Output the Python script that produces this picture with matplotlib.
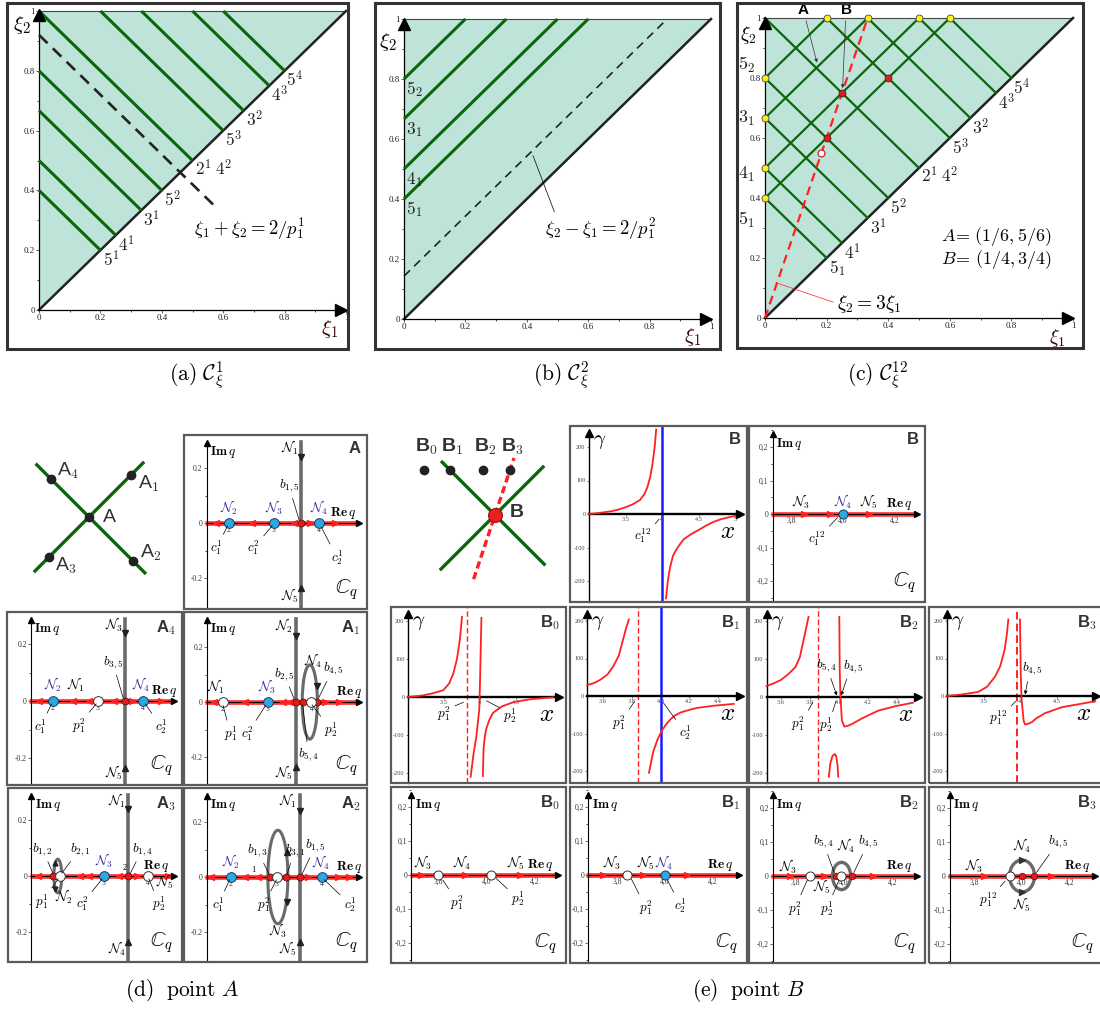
import numpy as np
import matplotlib
matplotlib.use("Agg")
import matplotlib.pyplot as plt
from matplotlib.patches import Rectangle, Ellipse

plt.rcParams['mathtext.fontset'] = 'cm'
plt.rcParams['font.family'] = ['Liberation Serif', 'DejaVu Serif']

W, H = 1100, 1009

#--- top row: xi plane ---#
sum_levels = [0.4, 0.5, 2/3, 0.8, 1.0, 1.2, 4/3, 1.5, 1.6]      # xi1 + xi2 = s
sum_labels = ['5^1', '4^1', '3^1', '5^2', '', '5^3', '3^2', '4^3', '5^4']
diff_levels = [0.4, 0.5, 2/3, 0.8]                               # xi2 - xi1 = d
diff_labels = ['5_1', '4_1', '3_1', '5_2']
dash_sum, dash_sum_end = 0.92, 0.58       # xi1 + xi2 = 2/p_1^1
dash_diff = 1/7                           # xi2 - xi1 = 2/p_1^2
ratio = 3                                 # xi2 = 3 xi1
red_x = [0.2, 0.25, 0.4]
red_y = [0.6, 0.75, 0.8]
white_xy = (0.183, 0.55)
A_pt = (1/6, 5/6)
B_pt = (1/4, 3/4)

#--- cross sketches ---#
A_nodes = [('1', 0.070, 1), ('2', 0.073, -1), ('3', -0.067, 1), ('4', -0.063, -1)]
B_nodes_x = [0.132, 0.175, 0.23, 0.275]
B_nodes_y = 0.825

#--- gamma(x) curves ---#
B_left = [(3.0, 0), (3.1, 2), (3.2, 5), (3.3, 8), (3.4, 13), (3.5, 20), (3.6, 29), (3.7, 42),
          (3.76, 60), (3.8, 80), (3.84, 112), (3.87, 150), (3.9, 200), (3.92, 252)]
B_right = [(4.055, -252), (4.08, -200), (4.11, -160), (4.15, -125), (4.2, -105), (4.25, -89),
           (4.3, -75), (4.4, -60), (4.5, -48), (4.6, -35), (4.7, -24), (4.8, -16), (4.93, -9), (5.04, -3)]
B_blue = 4.0

B0_left = [(3.0, 0), (3.2, 4), (3.35, 10), (3.49, 18), (3.57, 35), (3.63, 62), (3.68, 100),
           (3.72, 150), (3.75, 211)]
B0_mid = [(3.87, -210), (3.89, -180), (3.91, -150), (3.95, -103), (3.99, -32), (4.0, 37),
          (4.01, 124), (4.02, 208)]
B0_right = [(4.04, -208), (4.045, -170), (4.05, -134), (4.07, -100), (4.09, -82), (4.13, -60),
            (4.18, -42), (4.3, -25), (4.46, -14), (4.6, -9), (4.74, -5), (5.02, -1)]
B0_dash = 3.815

B1_left = [(3.49, 29), (3.54, 35), (3.58, 43), (3.63, 57), (3.67, 78), (3.71, 108), (3.74, 151),
           (3.76, 180), (3.78, 204)]
B1_right = [(3.92, -205), (3.935, -175), (3.95, -148), (3.98, -115), (4.01, -92), (4.04, -75),
            (4.07, -62), (4.1, -52), (4.14, -44), (4.2, -37), (4.25, -32), (4.37, -26), (4.51, -21)]
B1_dash, B1_blue = 3.846, 4.0

B2_left = [(3.5, 29), (3.55, 36), (3.6, 45), (3.65, 60), (3.7, 79), (3.73, 105), (3.75, 140),
           (3.77, 175), (3.79, 211)]
B2_hump = [(3.93, -210), (3.94, -175), (3.955, -155), (3.97, -150), (3.98, -155), (3.99, -180),
           (3.995, -210)]
B2_right = [(4.002, 211), (4.005, 70), (4.01, 0), (4.02, -62), (4.037, -78), (4.06, -76), (4.09, -71),
            (4.16, -56), (4.27, -36), (4.39, -24), (4.51, -15)]
B2_dash = 3.857

B3_left = [(3.0, 0), (3.2, 4), (3.43, 11), (3.55, 25), (3.66, 52), (3.73, 80), (3.79, 124),
           (3.82, 165), (3.84, 204)]
B3_right = [(4.0, 204), (4.01, 62), (4.02, -5), (4.05, -66), (4.07, -76), (4.1, -75), (4.16, -70),
            (4.22, -60), (4.34, -46), (4.57, -30), (4.8, -22), (5.03, -14)]
B3_dash = 3.955

#--- points on the Re q axis of the C_q panels ---#
A_blue, A_red, A_white, A_vl = [2, 3, 4], [3.6], [], 3.6
A4_blue, A4_red, A4_white, A4_vl = [2, 4], [3.6], [3], 3.6
A1_blue, A1_red, A1_white, A1_vl = [3], [3.63, 3.79, 4.12], [2, 3.97], 3.63
A3_blue, A3_red, A3_white, A3_vl = [3], [1.85, 3.55], [2.0, 4.0], 3.55
A2_blue, A2_red, A2_white, A2_vl = [2, 4], [2.85, 3.21, 3.51], [3.02], 3.51
Bq_blue, Bq_red, Bq_white = [4.0], [], []
B0q_blue, B0q_red, B0q_white = [], [], [3.8, 4.02]
B1q_blue, B1q_red, B1q_white = [4.0], [], [3.84]
B2q_blue, B2q_red, B2q_white = [], [3.966, 4.034], [3.86, 3.988]
B3q_blue, B3q_red, B3q_white = [], [4.0, 4.05], [3.95]

GREEN = '#0b650b'
TEAL = '#bee4d9'
RED = '#ff2020'
GRAY = '#6a6a6a'
NBLUE = '#2b2b9c'
FS = 9.5

fig = plt.figure(figsize=(W / 100, H / 100), dpi=100)
fig.patch.set_facecolor('white')


def px_axes(box, xref, yref):
    l, t, r, b = box
    ax = fig.add_axes([l / W, 1 - b / H, (r - l) / W, (b - t) / H])
    (p0, v0), (p1, v1) = xref
    sx = (v1 - v0) / (p1 - p0)
    ax.set_xlim(v0 + (l - p0) * sx, v0 + (r - p0) * sx)
    (q0, w0), (q1, w1) = yref
    sy = (w1 - w0) / (q1 - q0)
    ax.set_ylim(w0 + (b - q0) * sy, w0 + (t - q0) * sy)
    ax.patch.set_alpha(0)
    return ax


def frame(ax, lw=1.6, ec='#5a5a5a'):
    ax.add_patch(Rectangle((0, 0), 1, 1, transform=ax.transAxes, fill=False, lw=lw, ec=ec,
                           clip_on=False, zorder=20))


def axis_arrows(ax, x0, y0, xend, yend, ystart=None, xlw=0.8, ylw=0.8, ms=5):
    ax.spines['top'].set_visible(False)
    ax.spines['right'].set_visible(False)
    ax.spines['left'].set_position(('data', x0))
    ax.spines['bottom'].set_position(('data', y0))
    if ystart is None:
        ystart = ax.get_ylim()[0]
    ax.spines['bottom'].set_bounds(x0, xend)
    ax.spines['left'].set_bounds(ystart, yend)
    ax.spines['bottom'].set_linewidth(xlw)
    ax.spines['left'].set_linewidth(ylw)
    ax.spines['bottom'].set_zorder(3)
    ax.plot([xend], [y0], marker='>', color='k', ms=ms, clip_on=False, zorder=5)
    ax.plot([x0], [yend], marker='^', color='k', ms=ms, clip_on=False, zorder=5)


def note(ax, text, xy, pt=None, fs=FS, color='k', arrow=False, relpos=(0.5, 0.5), **kw):
    if pt is None:
        return ax.text(xy[0], xy[1], text, fontsize=fs, ha='center', va='center', color=color, zorder=9, **kw)
    ap = dict(arrowstyle='-|>' if arrow else '-', lw=0.5, color=kw.pop('lc', 'k'),
              shrinkA=1, shrinkB=0, mutation_scale=5, relpos=relpos)
    return ax.annotate(text, xy=pt, xytext=xy, fontsize=fs, ha='center', va='center', color=color,
                       zorder=9, arrowprops=ap, **kw)


def tag(ax, letter, sub=None):
    s = letter if sub is None else letter + r'$_{\mathsf{' + sub + '}}$'
    ax.text(0.965, 0.965, s, transform=ax.transAxes, ha='right', va='top', family='Liberation Sans',
            weight='bold', fontsize=12, color='#333333', zorder=9)


#--- top triangle panels ---#
def tri_axes(box, xref, yref):
    ax = px_axes(box, xref, yref)
    axis_arrows(ax, 0, 0, 0.985, 0.985, ystart=0, xlw=0.9, ylw=0.9, ms=8)
    ax.set_xticks([0, 0.2, 0.4, 0.6, 0.8, 1], ['0', '0.2', '0.4', '0.6', '0.8', '1'])
    ax.set_yticks([0, 0.2, 0.4, 0.6, 0.8, 1], ['0', '0.2', '0.4', '0.6', '0.8', '1'])
    ax.set_xticks(np.arange(0.1, 1, 0.2), minor=True)
    ax.set_yticks(np.arange(0.1, 1, 0.2), minor=True)
    ax.tick_params(labelsize=6.5, length=2, width=0.5, pad=1, colors='#222')
    ax.tick_params(which='minor', length=1.5, width=0.5)
    frame(ax, lw=2.2, ec='#333333')
    ax.fill([0, 0, 1], [0, 1, 1], color=TEAL, zorder=0, lw=0)
    ax.plot([0, 1], [1, 1], color='#444', lw=0.8, zorder=1)
    ax.plot([0, 1], [0, 1], color='#222', lw=1.8, zorder=2)
    return ax


def xi_labels(ax, p2, p1, fs=15):
    ax.text(p2[0], p2[1], r'$\xi_2$', fontsize=fs, ha='center', va='center')
    ax.text(p1[0], p1[1], r'$\xi_1$', fontsize=fs, ha='center', va='center', color='#3a0000')


def sum_lines(ax):
    for s in sum_levels:
        ax.plot([max(0, s - 1), s / 2], [min(s, 1), s / 2], color=GREEN, lw=2.2, zorder=3,
                solid_capstyle='butt')


def sum_texts(ax, first_sub=False, fs=12.5):
    for i, (s, lb) in enumerate(zip(sum_levels, sum_labels)):
        if lb == '':
            ax.text(s / 2 + 0.035, s / 2 - 0.028, '$2^1$', fontsize=fs, ha='center', va='center', color='#222')
            ax.text(s / 2 + 0.10, s / 2 - 0.028, '$4^2$', fontsize=fs, ha='center', va='center', color='#222')
            continue
        if i == 0 and first_sub:
            lb = '5_1'
        ax.text(s / 2 + 0.034, s / 2 - 0.033, '$' + lb + '$', fontsize=fs, ha='center', va='center', color='#222')


# (a)
ax = tri_axes((7, 3, 348, 349), ((39, 0), (346, 1)), ((310, 0), (11, 1)))
sum_lines(ax)
sum_texts(ax)
ax.plot([0, dash_sum_end], [dash_sum, dash_sum - dash_sum_end], color='#222', lw=1.9,
        dashes=(4.5, 2.8), zorder=4)
ax.text(0.505, 0.27, r'$\xi_1+\xi_2=2/p_1^1$', fontsize=13.5, ha='left', va='center')
xi_labels(ax, (-0.055, 0.953), (0.948, -0.062))

# (b)
ax = tri_axes((375, 3, 720, 349), ((404, 0), (711, 1)), ((319, 0), (19, 1)))
for d, lb in zip(diff_levels, diff_labels):
    ax.plot([0, 1 - d], [d, 1], color=GREEN, lw=2.2, zorder=3, solid_capstyle='butt')
    ax.text(0.033, d - 0.035, '$' + lb + '$', fontsize=12.5, ha='center', va='center', color='#222')
ax.plot([0, 1 - dash_diff], [dash_diff, 1], color='#222', lw=1.2, dashes=(5, 3.5), zorder=4)
note(ax, r'$\xi_2-\xi_1=2/p_1^2$', (0.64, 0.30), pt=(0.42, 0.545), fs=13.5, relpos=(0.1, 1.0))
xi_labels(ax, (-0.052, 0.923), (0.94, -0.06))

# (c)
ax = tri_axes((737, 3, 1083, 348), ((765, 0), (1073, 1)), ((318, 0), (18, 1)))
for s in sum_levels:
    ax.plot([max(0, s - 1), s / 2], [min(s, 1), s / 2], color=GREEN, lw=1.6, zorder=3)
for d, lb in zip(diff_levels, diff_labels):
    ax.plot([0, 1 - d], [d, 1], color=GREEN, lw=1.6, zorder=3)
sum_texts(ax, first_sub=True)
for d, lb, yy in zip(diff_levels, diff_labels, [0.326, 0.48, 0.666, 0.845]):
    ax.text(-0.06, yy, '$' + lb + '$', fontsize=13, ha='center', va='center', color='#222')
ax.plot([0, 1 / ratio], [0, 1], color=RED, lw=1.6, dashes=(4, 2.5), zorder=5)
ax.plot([0] * len(diff_levels), diff_levels, 'o', ms=5, mfc='#ffee22', mec='#444', mew=0.6, zorder=7, clip_on=False)
ax.plot([1 - d for d in diff_levels], [1] * len(diff_levels), 'o', ms=5, mfc='#ffee22', mec='#444', mew=0.6,
        zorder=7, clip_on=False)
ax.plot(red_x, red_y, 'o', ms=5, mfc='#e81818', mec='#333', mew=0.6, zorder=7)
ax.plot([white_xy[0]], [white_xy[1]], 'o', ms=5, mfc='white', mec='#d01010', mew=0.8, zorder=7)
note(ax, 'A', (0.124, 1.028), pt=(A_pt[0] + 0.002, A_pt[1] + 0.018), fs=11, arrow=True,
     family='Liberation Sans', weight='bold', lc='#333')
note(ax, 'B', (0.263, 1.028), pt=(B_pt[0] + 0.002, B_pt[1] + 0.016), fs=11, arrow=True,
     family='Liberation Sans', weight='bold', lc='#333')
ax.text(0.57, 0.272, r'$A\!=\,(1/6,5/6)$', fontsize=13, ha='left', va='center')
ax.text(0.57, 0.196, r'$B\!=\,(1/4,3/4)$', fontsize=13, ha='left', va='center')
note(ax, r'$\xi_2=3\xi_1$', (0.34, 0.048), pt=(0.043, 0.115), fs=14, lc=RED, relpos=(0.0, 0.5))
xi_labels(ax, (-0.055, 0.945), (0.948, -0.067), fs=14)

#--- cross sketches ---#
ax = px_axes((15, 445, 175, 595), ((89, 1/6), (689, 7/6)), ((517, 5/6), (-83, 11/6)))
ax.axis('off')
ax.plot([A_pt[0] - 0.09, A_pt[0] + 0.09], [A_pt[1] - 0.09, A_pt[1] + 0.09], color=GREEN, lw=2.4)
ax.plot([A_pt[0] - 0.087, A_pt[0] + 0.093], [A_pt[1] + 0.087, A_pt[1] - 0.093], color=GREEN, lw=2.4)
ax.plot([A_pt[0]], [A_pt[1]], 'o', color='#222', ms=6)
ax.text(A_pt[0] + 0.023, A_pt[1], 'A', family='Liberation Sans', fontsize=14, ha='left', va='center', color='#333')
for nm, t, sl in A_nodes:
    px, py = A_pt[0] + t, A_pt[1] + sl * t
    ax.plot([px], [py], 'o', color='#222', ms=6)
    dx = 0.012 if t > 0 else 0.01
    dy = -0.014 if (t > 0 and sl > 0) else (0.014 if t > 0 else (0.014 if sl < 0 else -0.014))
    ax.text(px + dx, py + dy, 'A' + r'$_{\mathsf{' + nm + '}}$', family='Liberation Sans', fontsize=14,
            ha='left', va='center', color='#333')

ax = px_axes((400, 440, 560, 600), ((495, 0.25), (1095, 1.25)), ((515, 0.75), (-85, 1.75)))
ax.axis('off')
ax.plot([B_pt[0] - 0.088, B_pt[0] + 0.082], [B_pt[1] + 0.088, B_pt[1] - 0.082], color=GREEN, lw=2.4)
ax.plot([B_pt[0] - 0.09, B_pt[0] + 0.08], [B_pt[1] - 0.09, B_pt[1] + 0.08], color=GREEN, lw=2.4)
ax.plot([(B_pt[1] - 0.107) / ratio, (B_pt[1] + 0.095) / ratio], [B_pt[1] - 0.107, B_pt[1] + 0.095],
        color=RED, lw=2.4, dashes=(2.2, 1.2))
ax.plot([B_pt[0]], [B_pt[1]], 'o', ms=10, mfc='#e82020', mec='#a01010', mew=0.8, zorder=5)
ax.text(B_pt[0] + 0.025, B_pt[1] + 0.004, 'B', family='Liberation Sans', weight='bold', fontsize=14,
        ha='left', va='center', color='#333')
ax.plot(B_nodes_x, [B_nodes_y] * 4, 'o', color='#222', ms=6, zorder=5)
for i, bx in enumerate(B_nodes_x):
    ax.text(bx + 0.004, B_nodes_y + 0.038, 'B' + r'$_{\mathsf{' + str(i) + '}}$', family='Liberation Sans',
            weight='bold', fontsize=14, ha='center', va='center', color='#333')


#--- C_q panels ---#
def cq_panel(box, xref, yref, x0, letter, sub, xt, xtl, yt, ytl, minor, re_x=0.85):
    ax = px_axes(box, xref, yref)
    xl, yl = ax.get_xlim(), ax.get_ylim()
    xend = xl[1] - 0.045 * (xl[1] - xl[0])
    yend = yl[1] - 0.045 * (yl[1] - yl[0])
    axis_arrows(ax, x0, 0, xend, yend)
    ax.plot([x0 - 0.01 * (xl[1] - xl[0]), xend - 0.01 * (xl[1] - xl[0])], [0, 0], color=RED, lw=3.4,
            alpha=0.9, solid_capstyle='butt', zorder=2)
    ax.set_xticks(xt, xtl)
    ax.set_yticks(yt, ytl)
    ax.set_yticks(minor, minor=True)
    ax.tick_params(axis='x', labelsize=5.5, length=0, pad=2, colors='#333')
    ax.tick_params(axis='y', labelsize=5.5, length=2, width=0.5, pad=1, colors='#333')
    ax.tick_params(axis='y', which='minor', length=1.5, width=0.5)
    frame(ax)
    tag(ax, letter, sub)
    ax.annotate(r'$\mathbf{Im}\,q$', xy=(x0, 0.90), xycoords=('data', 'axes fraction'), xytext=(2.5, 0),
                textcoords='offset points', fontsize=9.5, ha='left', va='center', zorder=9)
    ax.annotate(r'$\mathbf{Re}\,q$', xy=(re_x, 0), xycoords=('axes fraction', 'data'), xytext=(0, 1.5),
                textcoords='offset points', fontsize=9.5, ha='center', va='bottom', zorder=9)
    ax.text(0.95, 0.04, r'$\mathbb{C}_q$', transform=ax.transAxes, fontsize=15, ha='right', va='bottom', zorder=9)
    return ax


def dots(ax, blue, red, white, ms=7):
    if red:
        ax.plot(red, [0] * len(red), 'o', ms=ms * 0.72, mfc='#e81818', mec='#401010', mew=0.5, zorder=7)
    if white:
        ax.plot(white, [0] * len(white), 'o', ms=ms, mfc='white', mec='#333', mew=0.7, zorder=7)
    if blue:
        ax.plot(blue, [0] * len(blue), 'o', ms=ms, mfc='#2ea8e0', mec='#1a3a6a', mew=0.7, zorder=7)


def flow(ax, left, right):
    if left:
        ax.plot(left, [0] * len(left), '<', ms=5, color=RED, zorder=4)
    if right:
        ax.plot(right, [0] * len(right), '>', ms=5, color=RED, zorder=4)


def vpath(ax, x, top, bot, ytop, ybot):
    yl = ax.get_ylim()
    ax.plot([x, x], [yl[0], yl[1] * 0.92], color=GRAY, lw=2.6, zorder=3)
    ax.plot([x], [ytop], 'v', color='#222', ms=5, zorder=4)
    ax.plot([x], [ybot], '^', color='#222', ms=5, zorder=4)
    note(ax, top, (x - 0.25, yl[1] * 0.85))
    note(ax, bot, (x - 0.25, yl[0] * 0.85))


def loop(ax, cx, w, h, lw=2.2):
    ax.add_patch(Ellipse((cx, 0), 2 * w, 2 * h, fill=False, ec=GRAY, lw=lw, zorder=5))


N = lambda k: r'$\mathcal{N}_' + str(k) + '$'
A_yt, A_ytl, A_min = [-0.2, 0, 0.2], ['-0.2', '0', '0.2'], [-0.1, 0.1]
B_yt = [-0.2, -0.1, 0, 0.1, 0.2]
B_ytl = ['-0,2', '-0,1', '0', '0,1', '0,2']
B_min = np.arange(-0.25, 0.26, 0.05)
B_xt, B_xtl = [3.8, 4.0, 4.2], ['3,8', '4,0', '4,2']

# A
ax = cq_panel((184, 435, 367, 609), ((229, 2), (319, 4)), ((523, 0), (468, 0.2)), 1.5, 'A', None,
              [2, 3, 4], ['2', '3', '4'], A_yt, A_ytl, A_min, re_x=0.87)
vpath(ax, A_vl, N(1), N(5), 0.24, -0.235)
flow(ax, [1.7, 2.5, 3.45], [3.8, 4.35])
dots(ax, A_blue, A_red, A_white)
for x, k in zip(A_blue, [2, 3, 4]):
    note(ax, N(k), (x, 0.055), color=NBLUE)
note(ax, r'$b_{1,5}$', (3.33, 0.135), pt=(3.56, 0.01))
note(ax, r'$c_1^1$', (1.72, -0.09), pt=(1.97, -0.01))
note(ax, r'$c_1^2$', (2.55, -0.09), pt=(2.96, -0.01))
note(ax, r'$c_2^1$', (4.4, -0.125), pt=(4.05, -0.015))

# A4
ax = cq_panel((7, 612, 182, 785), ((53, 2), (143, 4)), ((701, 0), (644, 0.2)), 1.51, 'A', '4',
              [2, 3, 4], ['2', '3', '4'], A_yt, A_ytl, A_min, re_x=0.9)
vpath(ax, A4_vl, N(3), N(5), 0.24, -0.235)
flow(ax, [1.7, 2.45, 2.8, 3.35], [3.75, 4.4])
dots(ax, A4_blue, A4_red, A4_white)
note(ax, N(2), (2, 0.055), color=NBLUE)
note(ax, N(4), (3.95, 0.055), color=NBLUE)
note(ax, N(1), (2.5, 0.055))
note(ax, r'$b_{3,5}$', (3.33, 0.135), pt=(3.56, 0.01))
note(ax, r'$c_1^1$', (1.72, -0.09), pt=(1.97, -0.01))
note(ax, r'$p_1^2$', (2.57, -0.085), pt=(2.96, -0.01))
note(ax, r'$c_2^1$', (4.4, -0.09), pt=(4.05, -0.01))

# A1
ax = cq_panel((184, 612, 367, 785), ((223, 2), (312, 4)), ((702, 0), (647, 0.2)), 1.64, 'A', '1',
              [2, 3, 4], ['2', '3', '4'], A_yt, A_ytl, A_min, re_x=0.9)
vpath(ax, A1_vl, N(2), N(5), 0.24, -0.235)
loop(ax, 3.95, 0.17, 0.135)
ax.plot([4.115], [0.06], 'v', color='#222', ms=4, zorder=6)
flow(ax, [1.8, 2.5, 3.35, 3.5], [4.3, 4.6])
dots(ax, A1_blue, A1_red, A1_white)
note(ax, N(3), (3, 0.055), color=NBLUE)
note(ax, N(1), (1.85, 0.055))
note(ax, N(4), (4.02, 0.15))
note(ax, r'$b_{4,5}$', (4.47, 0.12), pt=(4.15, 0.015))
note(ax, r'$b_{2,5}$', (3.38, 0.1), pt=(3.6, 0.01))
note(ax, r'$b_{5,4}$', (3.92, -0.19), pt=(3.79, -0.01))
note(ax, r'$p_2^1$', (4.42, -0.1), pt=(4.0, -0.01))
note(ax, r'$p_1^1$', (2.17, -0.115), pt=(2.0, -0.012))
note(ax, r'$c_1^2$', (2.55, -0.115), pt=(2.96, -0.012))

# A3
ax = cq_panel((8, 788, 182, 962), ((104, 3), (148, 4)), ((876, 0), (820, 0.2)), 1.35, 'A', '3',
              [3, 4], ['3', '4'], A_yt, A_ytl, A_min)
vpath(ax, A3_vl, N(1), N(4), 0.24, -0.235)
loop(ax, 1.95, 0.09, 0.06)
ax.plot([1.88], [0.045], '^', color='#222', ms=3.5, zorder=6)
ax.plot([1.88], [-0.045], 'v', color='#222', ms=3.5, zorder=6)
flow(ax, [1.5, 2.45, 2.65, 3.35], [3.75, 4.45])
dots(ax, A3_blue, A3_red, A3_white)
note(ax, N(3), (3, 0.055), color=NBLUE)
note(ax, '2', (3.47, 0.03), fs=6)
note(ax, r'$b_{1,2}$', (1.6, 0.095), pt=(1.84, 0.01))
note(ax, r'$b_{2,1}$', (2.45, 0.095), pt=(2.04, 0.01))
note(ax, r'$b_{1,4}$', (3.87, 0.095), pt=(3.6, 0.01))
note(ax, N(5), (4.38, -0.02))
note(ax, r'$p_2^1$', (4.25, -0.1), pt=(4.02, -0.01))
note(ax, r'$c_1^2$', (2.5, -0.1), pt=(2.96, -0.01))
note(ax, r'$p_1^1$', (1.6, -0.09), pt=(1.96, -0.01))
note(ax, N(2), (2.1, -0.075))

# A2
ax = cq_panel((184, 788, 367, 962), ((231, 2), (322, 4)), ((877, 0), (822, 0.2)), 1.47, 'A', '2',
              [2, 3, 4], ['2', '3', '4'], A_yt, A_ytl, A_min, re_x=0.9)
vpath(ax, A2_vl, N(1), N(5), 0.24, -0.235)
loop(ax, 3.03, 0.22, 0.17)
ax.plot([3.24], [0.09], '^', color='#222', ms=4, zorder=6)
ax.plot([3.24], [-0.09], 'v', color='#222', ms=4, zorder=6)
flow(ax, [1.55, 2.3, 2.6], [3.7, 4.35, 4.6])
dots(ax, A2_blue, A2_red, A2_white)
note(ax, N(2), (2, 0.055), color=NBLUE)
note(ax, N(4), (3.99, 0.05), color=NBLUE)
note(ax, '1', (2.5, 0.025), fs=6)
note(ax, r'$b_{1,3}$', (2.58, 0.095), pt=(2.84, 0.01))
note(ax, r'$b_{3,1}$', (3.4, 0.095), pt=(3.23, 0.01))
note(ax, r'$b_{1,5}$', (3.86, 0.115), pt=(3.56, 0.01))
note(ax, N(3), (3.04, -0.195))
note(ax, r'$p_1^2$', (2.72, -0.1), pt=(3.0, -0.01))
note(ax, r'$c_1^1$', (1.72, -0.1), pt=(1.97, -0.01))
note(ax, r'$c_2^1$', (4.62, -0.1), pt=(4.05, -0.01))


def bq_common(ax, blue, red, white, right):
    flow(ax, [], right)
    dots(ax, blue, red, white, ms=6.5)


# B (C_q)
ax = cq_panel((749, 426, 925, 602), ((791, 3.8), (895, 4.2)), ((514, 0), (447, 0.2)), 3.73, 'B', None,
              B_xt, B_xtl, B_yt, B_ytl, B_min)
bq_common(ax, Bq_blue, Bq_red, Bq_white, [3.85, 3.95, 4.1])
note(ax, N(3), (3.84, 0.035))
note(ax, N(4), (4.0, 0.035), color=NBLUE)
note(ax, N(5), (4.1, 0.035))
note(ax, r'$c_1^{12}$', (3.9, -0.075), pt=(3.98, -0.01))

# B0 (C_q)
ax = cq_panel((391, 787, 566, 963), ((438, 3.8), (535, 4.2)), ((875, 0), (807, 0.2)), 3.69, 'B', '0',
              B_xt, B_xtl, B_yt, B_ytl, B_min)
bq_common(ax, B0q_blue, B0q_red, B0q_white, [3.73, 3.91, 4.14])
note(ax, N(3), (3.74, 0.035))
note(ax, N(4), (3.9, 0.035))
note(ax, N(5), (4.12, 0.035))
note(ax, r'$p_1^2$', (3.88, -0.08), pt=(3.82, -0.015))
note(ax, r'$p_2^1$', (4.13, -0.07), pt=(4.04, -0.01))

# B1 (C_q)
ax = cq_panel((570, 787, 747, 963), ((617, 3.8), (713, 4.2)), ((875, 0), (807, 0.2)), 3.68, 'B', '1',
              B_xt, B_xtl, B_yt, B_ytl, B_min)
bq_common(ax, B1q_blue, B1q_red, B1q_white, [3.74, 3.91, 4.09])
note(ax, N(3), (3.78, 0.035))
note(ax, N(5), (3.92, 0.035))
note(ax, N(4), (3.995, 0.035), color=NBLUE)
note(ax, r'$p_1^2$', (3.92, -0.095), pt=(3.86, -0.012))
note(ax, r'$c_2^1$', (4.065, -0.09), pt=(4.01, -0.015))

# B2 (C_q)
ax = cq_panel((749, 787, 925, 963), ((795, 3.8), (893, 4.2)), ((876, 0), (808, 0.2)), 3.71, 'B', '2',
              B_xt, B_xtl, B_yt, B_ytl, B_min)
loop(ax, 3.99, 0.037, 0.04, lw=2.4)
bq_common(ax, B2q_blue, B2q_red, B2q_white, [3.78, 3.92, 4.12])
note(ax, N(3), (3.77, 0.028))
note(ax, N(5), (3.91, -0.032))
note(ax, N(4), (4.01, 0.09))
note(ax, r'$b_{5,4}$', (3.915, 0.1), pt=(3.96, 0.01))
note(ax, r'$b_{4,5}$', (4.1, 0.1), pt=(4.04, 0.01))
note(ax, r'$p_1^2$', (3.8, -0.095), pt=(3.85, -0.012))
note(ax, r'$p_2^1$', (3.93, -0.095), pt=(3.98, -0.012))

# B3 (C_q)
ax = cq_panel((929, 787, 1103, 963), ((974, 3.8), (1070, 4.2)), ((876, 0), (808, 0.2)), 3.70, 'B', '3',
              B_xt, B_xtl, B_yt, B_ytl, B_min)
loop(ax, 4.0, 0.052, 0.047, lw=2.4)
ax.plot([4.0], [0.047], '>', color='#333', ms=4, zorder=6)
ax.plot([4.0], [-0.047], '>', color='#333', ms=4, zorder=6)
bq_common(ax, B3q_blue, B3q_red, B3q_white, [3.84, 4.12])
note(ax, N(3), (3.8, 0.03))
note(ax, N(4), (4.0, 0.088))
note(ax, N(5), (4.0, -0.085))
note(ax, r'$b_{4,5}$', (4.15, 0.1), pt=(4.06, 0.01))
note(ax, r'$p_1^{12}$', (3.86, -0.07), pt=(3.93, -0.015))


#--- gamma(x) panels ---#
def g_panel(box, xref, yref, x0, sub, xt, xtl):
    ax = px_axes(box, xref, yref)
    xl, yl = ax.get_xlim(), ax.get_ylim()
    xend = xl[1] - 0.04 * (xl[1] - xl[0])
    yend = yl[1] - 0.04 * (yl[1] - yl[0])
    axis_arrows(ax, x0, 0, xend, yend, xlw=1.7, ylw=1.0, ms=6)
    ax.set_xticks(xt, xtl)
    ax.set_yticks([-200, -100, 0, 100, 200], ['-200', '-100', '0', '100', '200'])
    ax.tick_params(labelsize=4.5, length=1.5, width=0.5, pad=1, colors='#444')
    frame(ax)
    tag(ax, 'B', sub)
    ax.annotate(r'$\gamma$', xy=(x0, 0.91), xycoords=('data', 'axes fraction'), xytext=(3, 0),
                textcoords='offset points', fontsize=15, ha='left', va='center', zorder=9)
    ax.annotate(r'$x$', xy=(0.89, 0), xycoords=('axes fraction', 'data'), xytext=(0, -5),
                textcoords='offset points', fontsize=18, ha='center', va='top', zorder=9)
    return ax


def curve(ax, pts):
    a = np.array(pts)
    ax.plot(a[:, 0], a[:, 1], color=RED, lw=1.3, zorder=4)


def vdash(ax, x, lw=1.0):
    ax.axvline(x, color=RED, lw=lw, dashes=(4, 2), zorder=3)


G3_xt, G3_xtl = [3.5, 4, 4.5, 5], ['3.5', '4', '4.5', '5']
G4_xt, G4_xtl = [3.6, 3.8, 4.0, 4.2, 4.4], ['3.6', '3.8', '4.0', '4.2', '4.4']

# B
ax = g_panel((570, 426, 747, 602), ((589, 3), (662, 4)), ((514, 0), (447, 200)), 3.0, None, G3_xt, G3_xtl)
ax.axvline(B_blue, color='#1a1aff', lw=1.8, zorder=3)
curve(ax, B_left)
curve(ax, B_right)
note(ax, r'$c_1^{12}$', (3.74, -66), pt=(3.96, -15), relpos=(0.9, 0.8))

# B0
ax = g_panel((391, 607, 566, 783), ((408, 3), (480, 4)), ((697, 0), (621, 200)), 3.0, '0',
             [3.5, 4, 4.5], ['3.5', '4', '4.5'])
vdash(ax, B0_dash)
curve(ax, B0_left)
curve(ax, B0_mid)
curve(ax, B0_right)
note(ax, r'$p_1^2$', (3.5, -44), pt=(3.77, -14), relpos=(0.9, 0.8))
note(ax, r'$p_2^1$', (4.42, -50), pt=(4.09, -10), relpos=(0.1, 0.8))

# B1
ax = g_panel((570, 607, 747, 783), ((603, 3.6), (718, 4.4)), ((696, 0), (621, 200)), 3.49, '1', G4_xt, G4_xtl)
vdash(ax, B1_dash)
ax.axvline(B1_blue, color='#1a1aff', lw=1.8, zorder=3)
curve(ax, B1_left)
curve(ax, B1_right)
note(ax, r'$p_1^2$', (3.71, -70), pt=(3.82, -14), relpos=(0.9, 0.8))
note(ax, r'$c_2^1$', (4.17, -98), pt=(4.02, -18), relpos=(0.2, 0.8))

# B2
ax = g_panel((749, 607, 925, 783), ((781, 3.6), (897, 4.4)), ((697, 0), (621, 200)), 3.5, '2', G4_xt, G4_xtl)
vdash(ax, B2_dash)
curve(ax, B2_left)
curve(ax, B2_hump)
curve(ax, B2_right)
note(ax, r'$b_{5,4}$', (3.915, 82), pt=(3.985, 4), arrow=True, relpos=(0.6, 0.1))
note(ax, r'$b_{4,5}$', (4.095, 80), pt=(4.015, 4), arrow=True, relpos=(0.3, 0.1))
note(ax, r'$p_1^2$', (3.72, -70), pt=(3.82, -14), relpos=(0.9, 0.8))
note(ax, r'$p_2^1$', (3.91, -74), pt=(3.98, -10), relpos=(0.8, 0.8))

# B3
ax = g_panel((929, 607, 1103, 783), ((947, 3), (1093, 5)), ((696, 0), (621, 200)), 3.0, '3', G3_xt, G3_xtl)
vdash(ax, B3_dash, lw=1.4)
curve(ax, B3_left)
curve(ax, B3_right)
note(ax, r'$b_{4,5}$', (4.17, 72), pt=(4.07, 4), arrow=True, relpos=(0.3, 0.0))
note(ax, r'$p_1^{12}$', (3.7, -58), pt=(3.94, -14), relpos=(0.9, 0.8))

#--- captions ---#
caps = [(196, 376, r'$\mathrm{(a)}\ \mathcal{C}_{\xi}^{1}$'),
        (561, 376, r'$\mathrm{(b)}\ \mathcal{C}_{\xi}^{2}$'),
        (878, 376, r'$\mathrm{(c)}\ \mathcal{C}_{\xi}^{12}$'),
        (182, 990, r'$\mathrm{(d)\ \ point}\ A$'),
        (748, 990, r'$\mathrm{(e)\ \ point}\ B$')]
for x, y, s in caps:
    fig.text(x / W, 1 - y / H, s, fontsize=15.5, ha='center', va='center')

fig.savefig('out.png', dpi=100)
